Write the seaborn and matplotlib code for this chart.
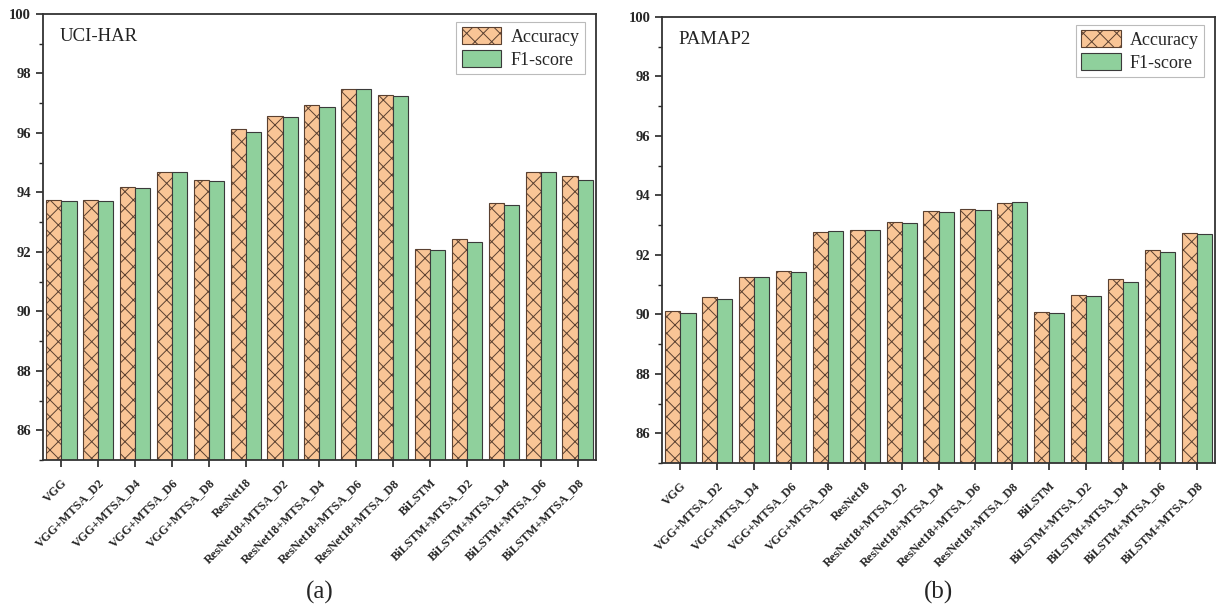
import numpy as np
import pandas as pd
import matplotlib
matplotlib.use("Agg")
import matplotlib.pyplot as plt
import seaborn as sns
from matplotlib.ticker import MultipleLocator
from matplotlib.patches import Patch

models = ["VGG", "VGG+MTSA_D2", "VGG+MTSA_D4", "VGG+MTSA_D6", "VGG+MTSA_D8",
          "ResNet18", "ResNet18+MTSA_D2", "ResNet18+MTSA_D4", "ResNet18+MTSA_D6", "ResNet18+MTSA_D8",
          "BiLSTM", "BiLSTM+MTSA_D2", "BiLSTM+MTSA_D4", "BiLSTM+MTSA_D6", "BiLSTM+MTSA_D8"]

uci_acc = [93.73, 93.75, 94.17, 94.68, 94.41, 96.13, 96.58, 96.94, 97.48, 97.26,
           92.11, 92.43, 93.63, 94.67, 94.54]
uci_f1 = [93.70, 93.71, 94.14, 94.68, 94.38, 96.03, 96.53, 96.88, 97.48, 97.23,
          92.05, 92.33, 93.59, 94.67, 94.41]

pamap_acc = [90.12, 90.59, 91.24, 91.45, 92.77, 92.83, 93.09, 93.47, 93.53, 93.76,
             90.08, 90.64, 91.20, 92.15, 92.73]
pamap_f1 = [90.03, 90.53, 91.24, 91.42, 92.79, 92.82, 93.08, 93.43, 93.52, 93.78,
            90.06, 90.61, 91.10, 92.10, 92.70]

metrics = ["Accuracy", "F1-score"]
panels = [("UCI-HAR", uci_acc, uci_f1, "(a)"), ("PAMAP2", pamap_acc, pamap_f1, "(b)")]

sns.set_style("ticks")
plt.rcParams["font.family"] = ["Liberation Serif", "DejaVu Serif"]
plt.rcParams["hatch.linewidth"] = 0.7

ORANGE = "#F9C596"
GREEN = "#8FD09C"
HATCH_EC = "#5a4030"

fig = plt.figure(figsize=(12.17, 6.13), dpi=100)
axes = [fig.add_axes([0.0353, 0.2496, 0.4544, 0.7276]),
        fig.add_axes([0.544, 0.2447, 0.4545, 0.7276])]

for ax, (name, acc, f1, tag) in zip(axes, panels):
    df = pd.DataFrame({
        "Model": models * 2,
        "Value": list(acc) + list(f1),
        "Metric": [metrics[0]] * len(models) + [metrics[1]] * len(models),
    })
    sns.barplot(data=df, x="Model", y="Value", hue="Metric", ax=ax,
                palette=[ORANGE, GREEN], width=0.82, saturation=1,
                linewidth=0.8, legend=False)
    n = len(models)
    for i, p in enumerate(ax.patches[:2 * n]):
        if i < n:
            p.set_hatch("xx")
            p.set_edgecolor(HATCH_EC)
        else:
            p.set_edgecolor("#3a3a3a")
    ax.set_ylim(85, 100)
    ax.set_xlim(-0.5, n - 0.5)
    ax.yaxis.set_major_locator(MultipleLocator(2))
    ax.yaxis.set_minor_locator(MultipleLocator(1))
    ax.set_yticks(np.arange(86, 101, 2))
    ax.tick_params(axis="y", which="major", direction="out", length=5, width=1.2, labelsize=10.5)
    ax.tick_params(axis="y", which="minor", direction="out", length=3, width=1.0)
    ax.tick_params(axis="x", direction="out", length=5, width=1.2, labelsize=8.8, pad=7)
    for lab in ax.get_yticklabels():
        lab.set_fontweight("bold")
    ax.set_xticks(range(n))
    ax.set_xticklabels(models, rotation=45, ha="right", rotation_mode="anchor", fontweight="bold")
    ax.set_xlabel("")
    ax.set_ylabel("")
    for s in ax.spines.values():
        s.set_linewidth(1.3)
        s.set_color("#333333")
    ax.text(0.03, 0.949, name, transform=ax.transAxes, fontsize=13.5, va="center", ha="left", color="#222222")
    handles = [Patch(facecolor=ORANGE, edgecolor=HATCH_EC, hatch="xx", linewidth=0.8, label=metrics[0]),
               Patch(facecolor=GREEN, edgecolor="#3a3a3a", linewidth=0.8, label=metrics[1])]
    leg = ax.legend(handles=handles, loc="upper right", bbox_to_anchor=(0.98, 0.982), borderaxespad=0,
                    fontsize=13, frameon=True, fancybox=False, edgecolor="#aaaaaa", handlelength=2.2,
                    handleheight=1.05, borderpad=0.3, labelspacing=0.25, handletextpad=0.5)
    leg.get_frame().set_linewidth(0.8)
    fig.text((ax.get_position().x0 + ax.get_position().x1) / 2, 0.034, tag, ha="center",
             va="center", fontsize=18)

fig.savefig("out.png", dpi=100)
